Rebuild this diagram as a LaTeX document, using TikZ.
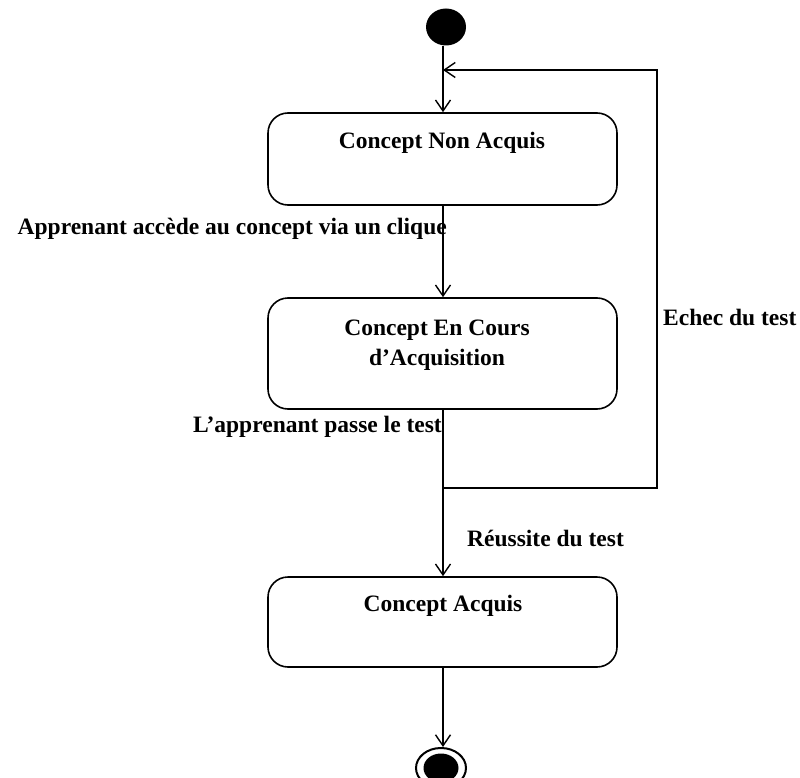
\documentclass[tikz,border=0pt]{standalone}
\usepackage{fontspec}
\setmainfont{Liberation Serif}
\usetikzlibrary{arrows.meta,shapes.geometric}
\begin{document}
\begin{tikzpicture}[x=1pt,y=-1pt,
  state/.style={draw,line width=1.6pt,rounded corners=20pt,minimum width=349pt,inner sep=0pt},
  lbl/.style={font=\fontsize{23.5}{30}\selectfont\bfseries,inner sep=0pt},
  flow/.style={line width=1.5pt,-{Straight Barb[length=11pt,width=15pt,line width=1.4pt]}}]
\useasboundingbox (0,0) rectangle (800,778);
\node[fill=black,ellipse,minimum width=40pt,minimum height=37pt,inner sep=0pt] (init) at (446,27) {};
\node[state,minimum height=92pt] (s1) at (442.5,159) {};
\node[lbl] at (442,143) {Concept Non Acquis};
\node[state,minimum height=111pt] (s2) at (442.5,353.5) {};
\node[lbl,align=center] at (437,345) {Concept En Cours\\d’Acquisition};
\node[state,minimum height=90pt] (s3) at (442.5,622) {};
\node[lbl] at (443,606) {Concept Acquis};
\node[draw,line width=2pt,ellipse,minimum width=50pt,minimum height=40pt,inner sep=0pt] (fin) at (441,768) {};
\node[fill=black,ellipse,minimum width=35pt,minimum height=29pt,inner sep=0pt] at (fin) {};
\coordinate (k) at (443,70);
\coordinate (j) at (443,488);
\coordinate (c1) at (657,488);
\coordinate (c2) at (657,70);
\draw[flow] (init.south -| k) -- (s1.north -| k);
\draw[flow] (s1.south -| k) -- (s2.north -| k);
\draw[flow] (s2.south -| k) -- (s3.north -| k);
\draw[flow] (s3.south -| k) -- (fin.north -| k);
\draw[flow] (j) -- (c1) -- (c2) -- (k);
\node[lbl,anchor=east] at (447,229) {Apprenant accède au concept via un clique};
\node[lbl,anchor=east] at (442,427) {L’apprenant passe le test};
\node[lbl,anchor=west] at (663,317) {Echec du test};
\node[lbl,anchor=west] at (467,538) {Réussite du test};
\end{tikzpicture}
\end{document}
